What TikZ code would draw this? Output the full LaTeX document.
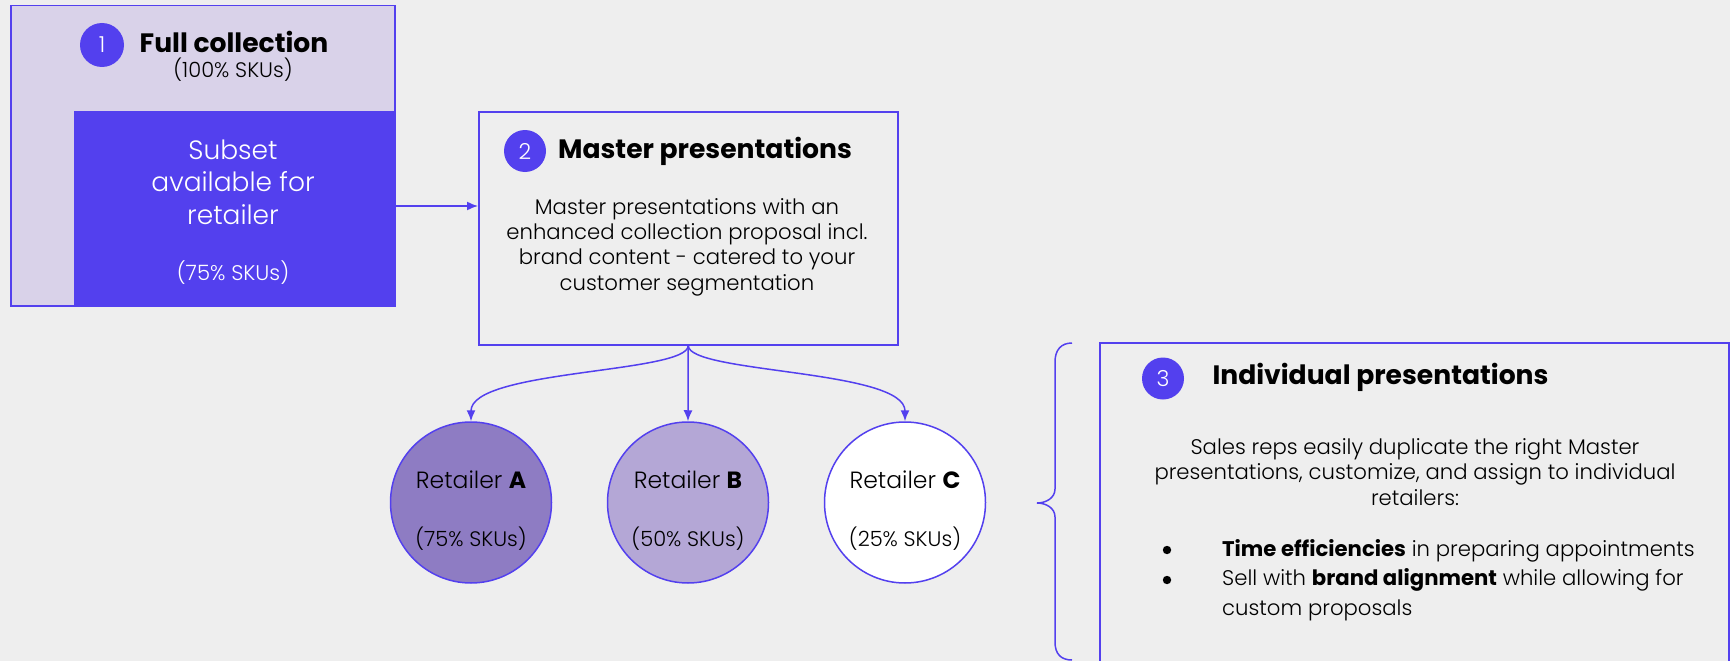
\documentclass[tikz,border=0pt]{standalone}
\usepackage{fontspec}
\usetikzlibrary{arrows.meta,shapes.geometric}
\IfFontExistsTF{Poppins Light}{%
  \setmainfont{Poppins}[UprightFont=* Light,BoldFont=* Bold]%
}{%
  \setmainfont{Poppins}%
}
\definecolor{bg}{HTML}{EEEEEE}
\definecolor{accent}{HTML}{5340EE}
\definecolor{lav}{HTML}{D9D2E9}
\definecolor{retA}{HTML}{8E7CC3}
\definecolor{retB}{HTML}{B4A7D6}
\newcommand{\fs}[2]{\fontsize{#1}{#2}\selectfont}
\begin{document}
\begin{tikzpicture}[x=1pt,y=1pt,
  boxline/.style={draw=accent,line width=1.5pt},
  numdot/.style={circle,fill=accent,inner sep=0pt,minimum size=44pt,text=white,font=\fs{22}{26}},
  retailer/.style={circle,draw=accent,line width=1.5pt,minimum size=161pt,inner sep=0pt},
  conn/.style={draw=accent,line width=1.5pt,-{Latex[length=11pt,width=9pt]}},
  title/.style={font=\fs{26.6}{30}\bfseries,inner sep=0pt},
  body/.style={font=\fs{21.2}{25.4},align=center,inner sep=0pt},
]
\useasboundingbox (0,0) rectangle (1730,-661);
\fill[bg] (0,0) rectangle (1730,-661);

% box 1
\node[boxline,fill=lav,minimum width=384pt,minimum height=300pt,inner sep=0pt,anchor=north west] (full) at (10,-5) {};
\node[fill=accent,minimum width=321pt,minimum height=195pt,inner sep=0pt,anchor=south east] (subset) at (full.south east) {};
\node[numdot] (n1) at (102,-45) {1};
\node[title] (fulltitle) at (234,-42) {Full collection};
\node[inner sep=0pt,font=\fs{21}{25}] (fullsku) at (233,-70) {(100\% SKUs)};
\node[inner sep=0pt,font=\fs{26.5}{32.5},align=center,text=white] (subtext) at (233,-182) {Subset\\available for\\retailer};
\node[inner sep=0pt,font=\fs{21.2}{25},text=white] (subsku) at (233,-273) {(75\% SKUs)};

% box 2
\node[boxline,minimum width=419pt,minimum height=233pt,inner sep=0pt,anchor=north west] (master) at (478,-111) {};
\node[numdot,minimum size=42pt] (n2) at (525,-151) {2};
\node[title] (mastertitle) at (705,-151) {Master presentations};
\node[body] (masterbody) at (687,-247) {Master presentations with an\\enhanced collection proposal incl.\\brand content - catered to your\\customer segmentation};

\draw[conn] (subset.east |- 0,-206) -- (master.west |- 0,-206);

% retailers
\node[retailer,fill=retA] (rA) at (471,-502.5) {};
\node[retailer,fill=retB] (rB) at (688,-502.5) {};
\node[retailer,fill=white] (rC) at (905,-502.5) {};
\foreach \r/\l/\p in {rA/A/75,rB/B/50,rC/C/25}{
  \node[inner sep=0pt,font=\fs{23.5}{28}] at ([yshift=23pt]\r.center) {Retailer \textbf{\l}};
  \node[inner sep=0pt,font=\fs{21}{25}] at ([yshift=-36pt]\r.center) {(\p\% SKUs)};
}
\draw[conn] (master.south) .. controls ([yshift=-28pt]master.south) and ([yshift=52pt]rA.north) .. (rA.north);
\draw[conn] (master.south) -- (rB.north);
\draw[conn] (master.south) .. controls ([yshift=-28pt]master.south) and ([yshift=52pt]rC.north) .. (rC.north);

% brace
\draw[accent,line width=1.5pt] (1072,-343) .. controls (1061,-343) and (1055,-350) .. (1055,-362) -- (1055,-489)
  .. controls (1055,-498) and (1046,-503) .. (1037,-503)
  .. controls (1046,-503) and (1055,-508) .. (1055,-517) -- (1055,-642)
  .. controls (1055,-654) and (1061,-660) .. (1072,-660);

% box 3
\draw[boxline] (1100,-670) -- (1100,-343) -- (1729,-343) -- (1729,-670);
\node[numdot,minimum size=42pt] (n3) at (1163,-378.5) {3};
\node[title] (indtitle) at (1380.5,-377) {Individual presentations};
\node[body] (indbody) at (1415,-472) {Sales reps easily duplicate the right Master\\presentations, customize, and assign to individual\\retailers:};
\fill (1167,-550) circle (4.2pt);
\fill (1167,-580) circle (4.2pt);
\node[inner sep=0pt,font=\fs{21.2}{29.5},align=left,anchor=west] (bul) at (1222,-580) {\textbf{Time efficiencies} in preparing appointments\\Sell with \textbf{brand alignment} while allowing for\\custom proposals};
\end{tikzpicture}
\end{document}
